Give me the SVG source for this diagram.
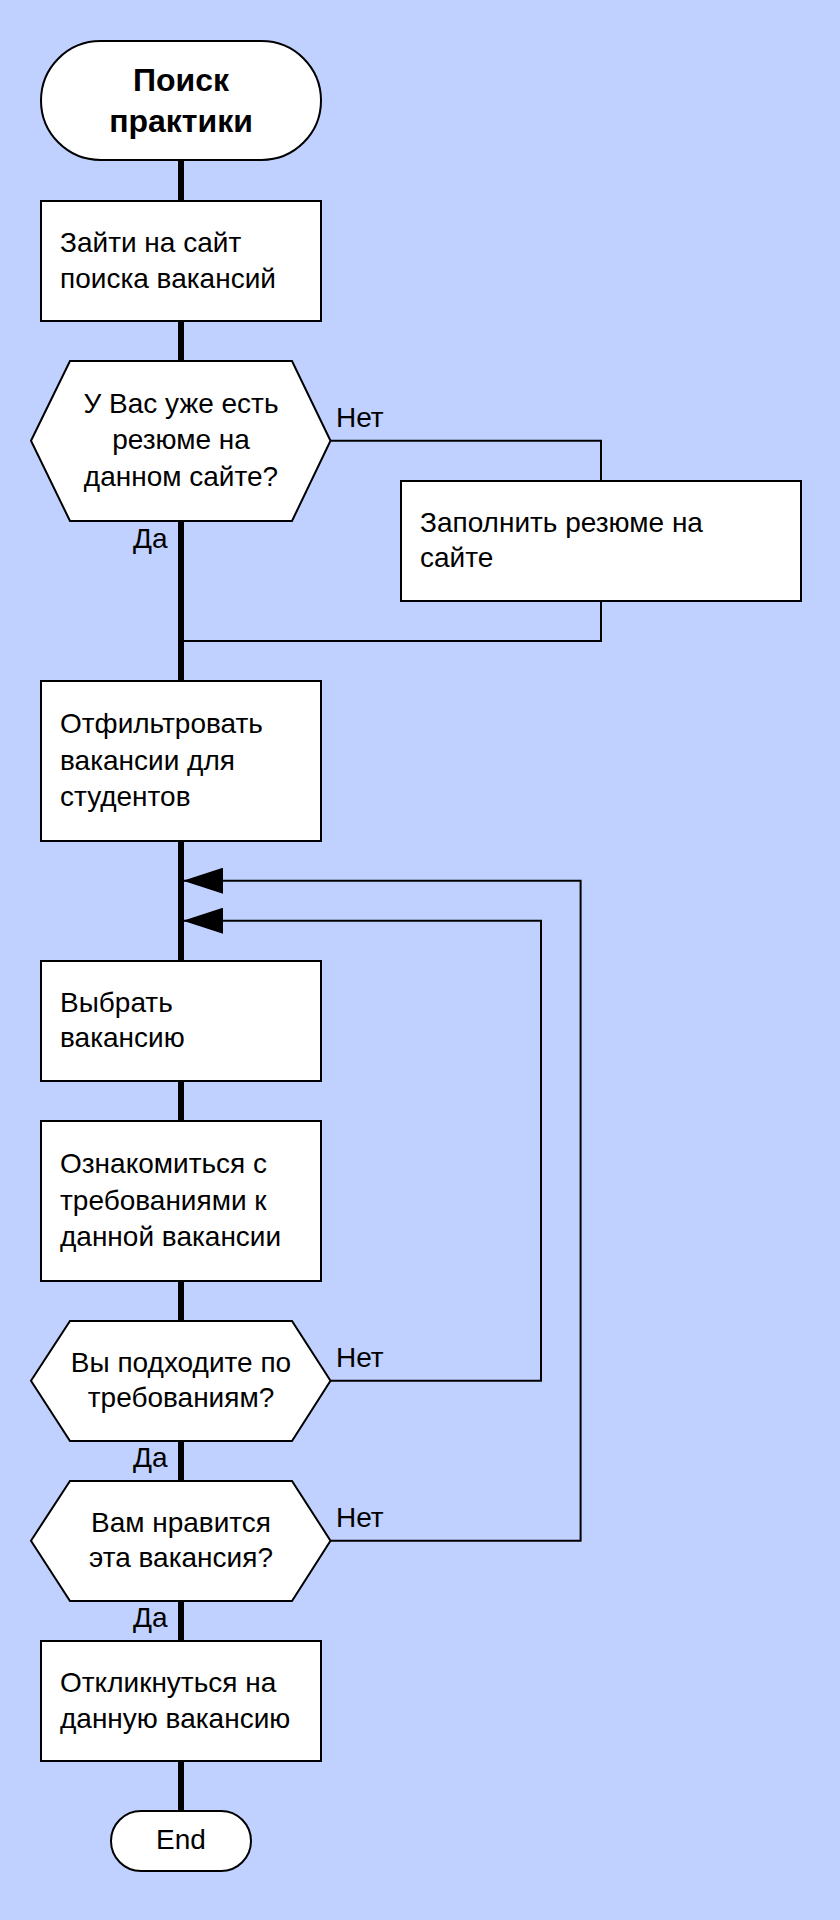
<svg xmlns="http://www.w3.org/2000/svg" width="840" height="1920" viewBox="0 0 840 1920">
<style>
.node{fill:#ffffff;stroke:#000000;stroke-width:2}
.t{font-family:"Liberation Sans",Arial,sans-serif;font-size:28px;fill:#000000}
.c{text-anchor:middle}
.b{font-weight:bold;font-size:32px}
.main{stroke:#000000;stroke-width:6;fill:none}
.thin{stroke:#000000;stroke-width:2;fill:none}
</style>
<defs>
<marker id="arr" viewBox="0 0 40 26" refX="40" refY="13" markerWidth="40" markerHeight="26" markerUnits="userSpaceOnUse" orient="auto">
<path d="M0,0 L40,13 L0,26 Z" fill="#000000"/>
</marker>
</defs>
<rect x="0" y="0" width="840" height="1920" fill="#c0d0ff"/>
<g id="connectors">
<path class="main" d="M181,160 V201 M181,321 V361 M181,521 V681 M181,841 V961 M181,1081 V1121 M181,1281 V1321 M181,1441 V1481 M181,1601 V1641 M181,1761 V1811"/>
<path class="thin" d="M330.5,440.7 H601 V481"/>
<path class="thin" d="M601,601 V641 H181"/>
<path class="thin" d="M330.5,1380.7 H541 V920.7 H183" marker-end="url(#arr)"/>
<path class="thin" d="M330.5,1540.7 H580.6 V880.7 H183" marker-end="url(#arr)"/>
<text class="t" x="336" y="427">Нет</text>
<text class="t" x="133" y="548">Да</text>
<text class="t" x="336" y="1367.3">Нет</text>
<text class="t" x="133" y="1466.7">Да</text>
<text class="t" x="336" y="1527.3">Нет</text>
<text class="t" x="133" y="1627">Да</text>
</g>
<g id="start">
<rect class="node" x="41" y="41" width="280" height="119" rx="59.5"/>
<text class="t b c" x="181" y="91">Поиск</text>
<text class="t b c" x="181" y="132">практики</text>
</g>
<g id="box1">
<rect class="node" x="41" y="201" width="280" height="120"/>
<text class="t" x="60" y="252">Зайти на сайт</text>
<text class="t" x="60" y="287.5">поиска вакансий</text>
</g>
<g id="hex1">
<polygon class="node" points="31,440.7 70,361 292,361 330.5,440.7 292,521 70,521"/>
<text class="t c" x="181" y="413.3">У Вас уже есть</text>
<text class="t c" x="181" y="449">резюме на</text>
<text class="t c" x="181" y="485.7">данном сайте?</text>
</g>
<g id="box2">
<rect class="node" x="401" y="481" width="400" height="120"/>
<text class="t" x="420" y="531.7">Заполнить резюме на</text>
<text class="t" x="420" y="567">сайте</text>
</g>
<g id="box3">
<rect class="node" x="41" y="681" width="280" height="160"/>
<text class="t" x="60" y="733.3">Отфильтровать</text>
<text class="t" x="60" y="769.5">вакансии для</text>
<text class="t" x="60" y="805.7">студентов</text>
</g>
<g id="box4">
<rect class="node" x="41" y="961" width="280" height="120"/>
<text class="t" x="60" y="1011.5">Выбрать</text>
<text class="t" x="60" y="1047">вакансию</text>
</g>
<g id="box5">
<rect class="node" x="41" y="1121" width="280" height="160"/>
<text class="t" x="60" y="1173.3">Ознакомиться с</text>
<text class="t" x="60" y="1209.5">требованиями к</text>
<text class="t" x="60" y="1245.7">данной вакансии</text>
</g>
<g id="hex2">
<polygon class="node" points="31,1380.7 70,1321 292,1321 330.5,1380.7 292,1441 70,1441"/>
<text class="t c" x="181" y="1371.7">Вы подходите по</text>
<text class="t c" x="181" y="1407.3">требованиям?</text>
</g>
<g id="hex3">
<polygon class="node" points="31,1540.7 70,1481 292,1481 330.5,1540.7 292,1601 70,1601"/>
<text class="t c" x="181" y="1531.7">Вам нравится</text>
<text class="t c" x="181" y="1567.3">эта вакансия?</text>
</g>
<g id="box6">
<rect class="node" x="41" y="1641" width="280" height="120"/>
<text class="t" x="60" y="1691.7">Откликнуться на</text>
<text class="t" x="60" y="1727.7">данную вакансию</text>
</g>
<g id="end">
<rect class="node" x="111" y="1811" width="140" height="60" rx="30"/>
<text class="t c" x="181" y="1849.3">End</text>
</g>
</svg>
